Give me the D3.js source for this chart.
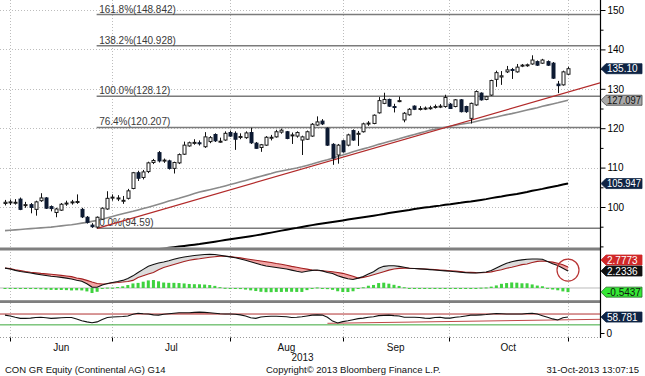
<!DOCTYPE html>
<html><head><meta charset="utf-8">
<script src="https://cdn.jsdelivr.net/npm/d3@7"></script>
<style>
body{margin:0;background:#fff}
svg{display:block}
text{font-family:"Liberation Sans",Arial,sans-serif}
</style>
</head><body>
<svg id="c" width="645" height="376"></svg>
<script>
// ---------- DATA (one value per trading day, 31-May-2013 .. 31-Oct-2013) ----------
const openP = [100.9,101.1,101.2,102.0,100.4,100.6,99.4,101.6,102.3,100.1,
  98.6,99.2,100.9,101.2,101.3,99.4,97.4,95.4,94.9,96.9,
  99.5,102.4,102.2,101.6,102.2,104.7,108.7,107.5,109.0,111.3,
  113.8,111.8,111.7,109.8,111.2,113.4,115.5,116.2,116.3,115.3,
  116.6,118.4,116.6,117.0,118.9,118.7,117.8,117.6,118.9,116.2,
  115.1,115.7,117.6,117.8,119.0,119.1,118.2,118.0,117.0,117.2,
  118.0,120.8,121.8,120.0,115.9,113.2,116.8,115.7,119.4,118.6,
  119.1,121.1,121.2,123.9,126.3,127.3,125.5,126.9,122.1,123.4,
  125.6,124.9,125.0,125.0,125.4,125.5,125.5,126.1,125.5,127.2,
  125.5,122.5,125.9,128.9,127.3,128.4,132.4,133.0,134.3,134.9,
  134.3,135.9,136.0,136.3,136.9,136.5,136.9,136.5,131.2,131.0,133.7];
const highP = [101.8,101.9,102.0,102.4,101.3,101.0,101.6,103.5,102.5,100.4,
  99.8,101.0,101.6,101.8,103.2,99.8,97.7,95.9,97.6,99.9,
  104.0,103.2,103.0,102.8,104.6,108.9,109.2,109.4,111.5,112.2,
  114.2,112.3,112.0,111.5,113.6,116.6,116.6,117.2,116.9,119.0,
  118.0,118.7,117.6,119.2,119.4,119.2,118.7,119.2,120.1,116.5,
  116.0,118.0,118.3,119.6,119.9,119.3,118.9,119.2,118.1,119.4,
  121.3,123.0,122.3,120.2,116.2,116.0,117.1,118.6,119.7,119.3,
  121.4,121.8,123.5,127.9,129.0,127.5,126.2,128.0,124.1,125.1,
  125.8,125.6,125.5,125.7,126.0,126.1,128.5,126.4,127.4,127.4,
  125.7,126.5,129.6,129.1,128.2,132.3,134.6,134.5,135.8,135.3,
  136.3,136.3,136.4,138.5,137.2,137.6,137.2,136.8,132.0,134.6,135.6];
const lowP = [100.4,100.5,100.6,99.2,99.8,98.4,97.8,101.3,99.5,98.9,
  97.4,99.0,100.3,100.6,100.8,97.2,95.8,94.7,94.59,96.7,
  99.3,101.6,101.5,100.8,101.9,104.5,106.6,107.0,108.6,110.9,
  111.3,111.2,109.5,108.5,110.9,113.2,115.3,115.8,115.6,115.0,
  116.2,116.5,116.3,116.8,117.8,114.5,117.2,117.3,116.0,114.8,
  114.0,115.5,116.9,117.6,118.6,117.2,116.0,117.6,113.2,117.0,
  117.8,120.6,120.8,115.5,110.7,111.0,113.8,115.4,116.8,115.5,
  118.9,120.6,121.0,123.7,126.1,125.4,124.0,126.6,121.5,123.2,
  124.6,124.5,124.6,124.7,125.0,125.1,125.2,124.9,125.3,124.0,
  123.9,121.2,125.7,127.0,127.1,128.2,130.5,131.0,134.0,132.5,
  134.1,135.5,135.6,136.1,135.8,136.3,135.8,132.5,128.9,130.8,133.5];
const closeP = [101.2,101.3,101.2,99.4,100.6,99.9,101.3,102.3,99.7,99.6,
  99.5,100.7,101.0,101.3,101.4,97.5,96.1,95.0,97.4,99.7,
  102.2,102.5,102.3,101.7,104.1,108.7,107.3,108.9,111.2,111.8,
  111.7,111.9,109.8,111.3,113.3,115.7,116.3,116.4,116.2,117.8,
  117.6,116.8,116.7,118.7,118.0,117.2,117.9,118.8,116.3,114.9,
  115.8,117.7,117.7,119.1,119.5,117.4,118.3,118.9,117.8,119.1,
  121.0,121.6,121.1,115.7,112.4,115.7,114.0,118.3,117.0,118.7,
  121.1,121.3,123.3,127.0,127.3,125.6,125.3,127.0,123.8,124.8,
  124.8,125.0,125.1,125.2,125.5,125.6,127.8,125.0,127.2,124.2,
  124.2,126.3,129.3,127.2,128.0,132.1,134.1,133.3,134.8,134.8,
  135.5,136.0,136.1,137.3,136.0,137.3,136.0,132.7,130.8,134.3,135.1];

// 50-day moving average (grey)
const ma50 = [94.0,94.1,94.2,94.3,94.4,94.5,94.6,94.7,94.8,94.9,
  95.05,95.2,95.35,95.5,95.7,95.9,96.1,96.35,96.6,
  96.9,97.25,97.6,97.95,98.3,98.6,98.9,99.25,99.6,99.95,100.3,
  100.7,101.1,101.5,101.85,102.2,102.6,103.0,103.4,103.8,
  104.1,104.4,104.7,105.0,
  105.35,105.7,106.05,106.4,106.75,107.1,107.45,107.8,108.15,108.5,108.9,
  109.15,109.4,109.65,109.9,110.2,
  110.55,110.9,111.3,111.65,112.0,112.4,
  112.8,113.2,113.6,114.0,114.4,114.75,115.1,115.5,115.9,
  116.25,116.6,116.95,117.3,117.7,118.05,118.4,118.75,119.1,119.5,
  119.75,120.0,120.25,120.5,120.75,121.0,121.2,121.4,
  121.7,122.0,122.3,122.6,122.85,123.15,123.45,123.7,124.0,
  124.3,124.6,124.9,125.2,125.55,125.85,126.15,126.45,126.8,127.097];

// 200-day moving average (black), visible from day 28
const ma200FirstDay = 28;
const ma200 = [89.0,89.16,89.32,89.48,89.64,89.8,89.96,90.12,90.28,90.44,90.6,
  90.8,91.0,91.2,91.4,91.6,91.8,92.0,92.2,92.4,92.6,92.8,93.0,
  93.25,93.5,93.75,94.0,94.25,94.5,94.7,94.95,95.2,
  95.4,95.6,95.8,96.0,96.2,96.4,96.6,96.8,97.0,97.2,97.4,
  97.6,97.8,98.0,98.2,98.45,98.65,98.85,99.05,99.25,99.5,99.7,
  99.85,100.0,100.2,100.35,100.55,100.7,100.9,101.05,101.25,101.4,
  101.6,101.8,102.0,102.25,102.45,102.65,102.9,103.1,103.3,
  103.55,103.8,104.1,104.35,104.6,104.9,105.15,105.4,105.7,105.947];

// Trend line (red) from the June low
const trendPoints = [[18, 94.59], [110, 129.16]];

// Fibonacci levels
const fibLevels = [94.59, 120.207, 128.12, 140.928, 148.842];
const fibLabels = ["0.0%(94.59)", "76.4%(120.207)", "100.0%(128.12)", "138.2%(140.928)", "161.8%(148.842)"];
const fibFirstDay = 18;

// MACD panel
const macdLine = [2.62,2.50,2.32,2.18,2.08,1.97,1.86,1.75,1.65,1.55,
  1.48,1.40,1.30,1.18,1.02,0.88,0.55,0.12,0.10,0.40,
  0.60,0.72,0.85,1.00,1.25,1.60,2.05,2.45,2.85,3.10,
  3.28,3.42,3.58,3.78,3.95,4.08,4.18,4.27,4.34,4.40,
  4.43,4.40,4.30,4.20,4.10,3.98,3.82,3.65,3.45,3.25,
  3.05,2.90,2.80,2.70,2.60,2.50,2.35,2.20,2.08,2.20,
  2.32,2.37,2.25,2.05,1.90,1.62,1.40,1.22,1.12,1.30,
  1.50,1.85,2.15,2.60,2.85,2.92,2.92,2.85,2.72,2.60,
  2.56,2.52,2.48,2.42,2.36,2.30,2.25,2.20,2.14,2.08,
  2.02,1.98,1.98,2.05,2.10,2.30,2.62,2.95,3.25,3.45,
  3.60,3.70,3.78,3.82,3.82,3.78,3.50,3.20,2.95,2.60,2.2336];
const signalLine = [2.62,2.55,2.40,2.30,2.18,2.08,2.00,1.92,1.86,1.80,
  1.74,1.66,1.58,1.50,1.32,1.20,1.00,0.78,0.60,0.53,
  0.55,0.68,0.72,0.78,0.86,1.00,1.38,1.62,1.85,2.05,
  2.40,2.70,2.90,3.10,3.30,3.48,3.65,3.77,3.85,3.95,
  4.04,4.12,4.19,4.18,4.13,4.05,3.96,3.86,3.76,3.65,
  3.55,3.45,3.35,3.22,3.12,3.00,2.85,2.72,2.60,2.48,
  2.36,2.30,2.27,2.20,2.14,2.05,1.93,1.75,1.55,1.30,
  1.40,1.55,1.75,1.95,2.15,2.35,2.50,2.58,2.62,2.60,
  2.57,2.54,2.50,2.47,2.42,2.37,2.32,2.28,2.22,2.16,
  2.08,2.05,2.02,2.01,2.03,2.12,2.28,2.40,2.60,2.72,
  2.90,3.08,3.16,3.35,3.50,3.55,3.48,3.40,3.25,3.05,2.7773];

// RSI panel
const rsiLine = [66,63,58,54,54,55,57,58,56,54,
  55,56,57,57,52,45,41,38,41,50,
  57,59,60,61,63,69,73,71,70,67,
  66,69,71,73,75,75,75,76,77,76,
  75,73,71,70,70,69,67,63,56,54,
  59,61,62,62,61,60,57,58,60,63,
  66,67,66,58,44,37,42,45,49,53,
  55,58,60,64,65,66,64,63,58,58,
  58,57,55,54,57,58,55,55,58,60,
  63,66,66,67,68,70,72,71,70,70,
  70,70,72,73,70,64,58,52,48,56,58.781];
const rsiLevels = {upper: 70, lower: 30};
const rsiTrendPoints = [[63, 35.8], [110, 48.8]];

// Axis labels
const priceTicks = [100, 110, 120, 130, 140, 150];
const priceMinorTicks = [90, 95, 105, 115, 125, 135, 145];
const monthTickDays = [1, 21, 44, 66, 86.7, 110];
const monthLabels = ["Jun", "Jul", "Aug", "Sep", "Oct"];
const yearLabel = "2013";
const footerLeft = "CON GR Equity (Continental AG) G14";
const footerMid = "Copyright\u00A9 2013 Bloomberg Finance L.P.";
const footerRight = "31-Oct-2013 13:07:15";

// ---------- DRAWING ----------
const svg = d3.select("#c");
const n = closeP.length;
const x = d3.scaleLinear().domain([0, 110]).range([5, 568]);
const yP = d3.scaleLinear().domain([90, 150]).range([246.4, 10]);
const yM = d3.scaleLinear().domain([-1.58, 4.87]).range([300, 251]);
const yR = d3.scaleLinear().domain([0, 100]).range([333, 305.9]);
const AX = 600.5;
const days = d3.range(n);

const defs = svg.append("defs");
function clip(id, y0, h) {
  defs.append("clipPath").attr("id", id).append("rect").attr("x", 0).attr("y", y0).attr("width", 600).attr("height", h);
}
clip("cMain", 0, 247.5); clip("cMacd", 250.5, 49.5); clip("cRsi", 303, 35);

// grid: vertical dotted at month ticks
const grid = svg.append("g");
monthTickDays.forEach(d => {
  const xx = Math.round(x(d)) + 0.5;
  grid.append("line").attr("x1", xx).attr("x2", xx).attr("y1", 0).attr("y2", 338)
    .attr("stroke", "#bdbdbd").attr("stroke-width", 1).attr("stroke-dasharray", "1,2");
});
priceTicks.forEach(v => {
  const yy = Math.round(yP(v)) + 0.5;
  grid.append("line").attr("x1", 0).attr("x2", 600).attr("y1", yy).attr("y2", yy)
    .attr("stroke", "#bdbdbd").attr("stroke-dasharray", "1,2");
});
grid.append("line").attr("x1", 0).attr("x2", 600).attr("y1", 337.5).attr("y2", 337.5)
  .attr("stroke", "#9a9a9a").attr("stroke-dasharray", "1,2");

// ---- main panel ----
const main = svg.append("g").attr("clip-path", "url(#cMain)");

fibLevels.forEach((v, k) => {
  const yy = yP(v);
  main.append("line").attr("x1", x(fibFirstDay) - 0.5).attr("x2", 600).attr("y1", yy).attr("y2", yy)
    .attr("stroke", "#7b7b7b").attr("stroke-width", 1.5);
  main.append("text").attr("x", x(fibFirstDay) + 2).attr("y", yy - 2).attr("font-size", 10)
    .attr("fill", "#3a3a3a").text(fibLabels[k]);
});

const lineP = (arr, off) => d3.line().x((d, i) => x(i + off)).y(d => yP(d));
main.append("path").attr("d", lineP(ma50, 0)(ma50)).attr("fill", "none")
  .attr("stroke", "#8a8a8a").attr("stroke-width", 1.6);
main.append("path").attr("d", lineP(ma200, ma200FirstDay)(ma200)).attr("fill", "none")
  .attr("stroke", "#000").attr("stroke-width", 2);

(function () {
  const [a, b] = trendPoints;
  const slope = (b[1] - a[1]) / (b[0] - a[0]);
  const dEnd = x.invert(600);
  main.append("line").attr("x1", x(a[0])).attr("y1", yP(a[1]))
    .attr("x2", x(dEnd)).attr("y2", yP(a[1] + slope * (dEnd - a[0])))
    .attr("stroke", "#b22a2a").attr("stroke-width", 1.2);
})();

const cg = main.append("g");
days.forEach(i => {
  const cx = Math.round(x(i)) + 0.5;
  const o = openP[i], c = closeP[i];
  const up = c >= o;
  cg.append("line").attr("x1", cx).attr("x2", cx).attr("y1", yP(highP[i])).attr("y2", yP(lowP[i]))
    .attr("stroke", "#111").attr("stroke-width", 1);
  const top = yP(Math.max(o, c)), bot = yP(Math.min(o, c));
  const h = Math.max(bot - top, 1);
  cg.append("rect").attr("x", cx - 1.5).attr("y", top).attr("width", 3).attr("height", h)
    .attr("fill", up ? "#fff" : "#0d1a33").attr("stroke", up ? "#1a1a1a" : "#0d1a33").attr("stroke-width", 1);
});

[[247.5, 3], [300.2, 2.8]].forEach(([y0, h]) => {
  svg.append("rect").attr("x", 0).attr("y", y0).attr("width", 601).attr("height", h).attr("fill", "#7f7f7f");
});

// ---- MACD panel ----
const mg = svg.append("g").attr("clip-path", "url(#cMacd)");
mg.append("line").attr("x1", 0).attr("x2", 600).attr("y1", yM(0)).attr("y2", yM(0))
  .attr("stroke", "#a8a8a8").attr("stroke-width", 0.8);
const hist = days.map(i => macdLine[i] - signalLine[i]);
days.forEach(i => {
  const v = hist[i];
  const y0 = yM(0), y1 = yM(v);
  mg.append("rect").attr("x", x(i) - 1.5).attr("width", 3)
    .attr("y", Math.min(y0, y1)).attr("height", Math.max(Math.abs(y1 - y0), 1))
    .attr("fill", "#3fd23f");
});
const aboveMacd = d3.area().x((d, i) => x(i)).y0(251).y1((d, i) => yM(macdLine[i]));
const belowMacd = d3.area().x((d, i) => x(i)).y0(300).y1((d, i) => yM(macdLine[i]));
defs.append("clipPath").attr("id", "cAboveM").append("path").attr("d", aboveMacd(days));
defs.append("clipPath").attr("id", "cBelowM").append("path").attr("d", belowMacd(days));
mg.append("path").attr("clip-path", "url(#cBelowM)").attr("fill", "#dcdcdc")
  .attr("d", d3.area().x((d, i) => x(i)).y0(251).y1((d, i) => yM(signalLine[i]))(days));
mg.append("path").attr("clip-path", "url(#cAboveM)").attr("fill", "#f2a5a5")
  .attr("d", d3.area().x((d, i) => x(i)).y0(300).y1((d, i) => yM(signalLine[i]))(days));
const lm = d3.line().x((d, i) => x(i)).y(d => yM(d));
mg.append("path").attr("d", lm(signalLine)).attr("fill", "none").attr("stroke", "#a32020").attr("stroke-width", 1.1);
mg.append("path").attr("d", lm(macdLine)).attr("fill", "none").attr("stroke", "#111").attr("stroke-width", 1.1);
svg.append("circle").attr("cx", x(n - 1)).attr("cy", yM(macdLine[n - 1]) - 1).attr("r", 11)
  .attr("fill", "none").attr("stroke", "#b83434").attr("stroke-width", 1.2);

// ---- RSI panel ----
const rg = svg.append("g").attr("clip-path", "url(#cRsi)");
rg.append("path").attr("fill", "#f3b2b2")
  .attr("d", d3.area().x((d, i) => x(i)).y0(yR(rsiLevels.upper)).y1(d => yR(Math.max(d, rsiLevels.upper)))(rsiLine));
rg.append("line").attr("x1", 0).attr("x2", 600).attr("y1", yR(rsiLevels.upper)).attr("y2", yR(rsiLevels.upper))
  .attr("stroke", "#b03030").attr("stroke-width", 1);
rg.append("line").attr("x1", 0).attr("x2", 600).attr("y1", yR(rsiLevels.lower)).attr("y2", yR(rsiLevels.lower))
  .attr("stroke", "#3aa83a").attr("stroke-width", 1);
(function () {
  const [a, b] = rsiTrendPoints;
  const slope = (b[1] - a[1]) / (b[0] - a[0]);
  const dEnd = x.invert(600);
  rg.append("line").attr("x1", x(a[0])).attr("y1", yR(a[1]))
    .attr("x2", x(dEnd)).attr("y2", yR(a[1] + slope * (dEnd - a[0])))
    .attr("stroke", "#c04848").attr("stroke-width", 1);
})();
rg.append("path").attr("d", d3.line().x((d, i) => x(i)).y(d => yR(d))(rsiLine))
  .attr("fill", "none").attr("stroke", "#111").attr("stroke-width", 1.1);

// ---- right axis ----
svg.append("line").attr("x1", AX).attr("x2", AX).attr("y1", 0).attr("y2", 338).attr("stroke", "#000").attr("stroke-width", 1.2);
const axMajor = d3.axisRight(yP).tickValues(priceTicks).tickSize(5).tickPadding(2).tickFormat(d3.format("d"));
const ga = svg.append("g").attr("transform", `translate(${AX},0)`).call(axMajor);
ga.select(".domain").remove();
ga.selectAll("text").attr("font-size", 10).attr("font-family", "Liberation Sans, Arial, sans-serif").attr("fill", "#000");
ga.selectAll("line").attr("stroke", "#000");
const gm = svg.append("g").attr("transform", `translate(${AX},0)`)
  .call(d3.axisRight(yP).tickValues(priceMinorTicks).tickSize(3).tickFormat(""));
gm.select(".domain").remove();
gm.selectAll("line").attr("stroke", "#000");
const gr = svg.append("g").attr("transform", `translate(${AX},0)`)
  .call(d3.axisRight(yR).tickValues([0]).tickSize(4).tickPadding(2));
gr.select(".domain").remove();
gr.selectAll("text").attr("font-size", 10).attr("font-family", "Liberation Sans, Arial, sans-serif").attr("fill", "#000");

// ---- badges ----
function badge(yc, label, fill, tcolor, stroke) {
  const g = svg.append("g");
  g.append("path").attr("d", `M601,${yc} L606,${yc - 5} L642,${yc - 5} L642,${yc + 5} L606,${yc + 5} Z`)
    .attr("fill", fill).attr("stroke", stroke || fill).attr("stroke-width", 0.8);
  const t = g.append("text").attr("x", 607).attr("y", yc + 3.7).attr("font-size", 10).attr("fill", tcolor).text(label);
  const w = t.node().getComputedTextLength();
  if (w > 34) t.attr("textLength", 34).attr("lengthAdjust", "spacingAndGlyphs");
}
badge(yP(closeP[n - 1]), d3.format(".2f")(closeP[n - 1]), "#0f2444", "#fff");
badge(yP(ma50[n - 1]), d3.format(".3f")(ma50[n - 1]), "#a8a8a8", "#111", "#444");
badge(yP(ma200[ma200.length - 1]), d3.format(".3f")(ma200[ma200.length - 1]), "#0f2444", "#fff");
badge(yM(macdLine[n - 1]) - 11, d3.format(".4f")(signalLine[n - 1]), "#d02828", "#fff");
badge(yM(macdLine[n - 1]), d3.format(".4f")(macdLine[n - 1]), "#111", "#fff");
badge(yM(hist[n - 1]), d3.format(".4f")(hist[n - 1]).replace("\u2212", "-"), "#34e834", "#111", "#2a6a2a");
badge(yR(rsiLine[n - 1]), d3.format(".3f")(rsiLine[n - 1]), "#0f2444", "#fff");

// ---- x axis ----
monthTickDays.forEach(d => {
  const xx = Math.round(x(d)) + 0.5;
  svg.append("line").attr("x1", xx).attr("x2", xx).attr("y1", 337.5).attr("y2", 341.5).attr("stroke", "#000");
});
monthLabels.forEach((m, k) => {
  svg.append("text").attr("x", x((monthTickDays[k] + monthTickDays[k + 1]) / 2)).attr("y", 350.5)
    .attr("text-anchor", "middle").attr("font-size", 10).attr("fill", "#111").text(m);
});
svg.append("text").attr("x", x((monthTickDays[2] + monthTickDays[3]) / 2) + 16).attr("y", 360.5)
  .attr("text-anchor", "middle").attr("font-size", 10).attr("fill", "#111").text(yearLabel);

// ---- footer ----
svg.append("text").attr("x", 5).attr("y", 372.5).attr("font-size", 9.5).attr("fill", "#111").text(footerLeft);
svg.append("text").attr("x", 266).attr("y", 372.5).attr("font-size", 9.5).attr("fill", "#111").text(footerMid);
svg.append("text").attr("x", 639).attr("y", 372.5).attr("text-anchor", "end").attr("font-size", 9.5).attr("fill", "#111").text(footerRight);
</script>
</body></html>
